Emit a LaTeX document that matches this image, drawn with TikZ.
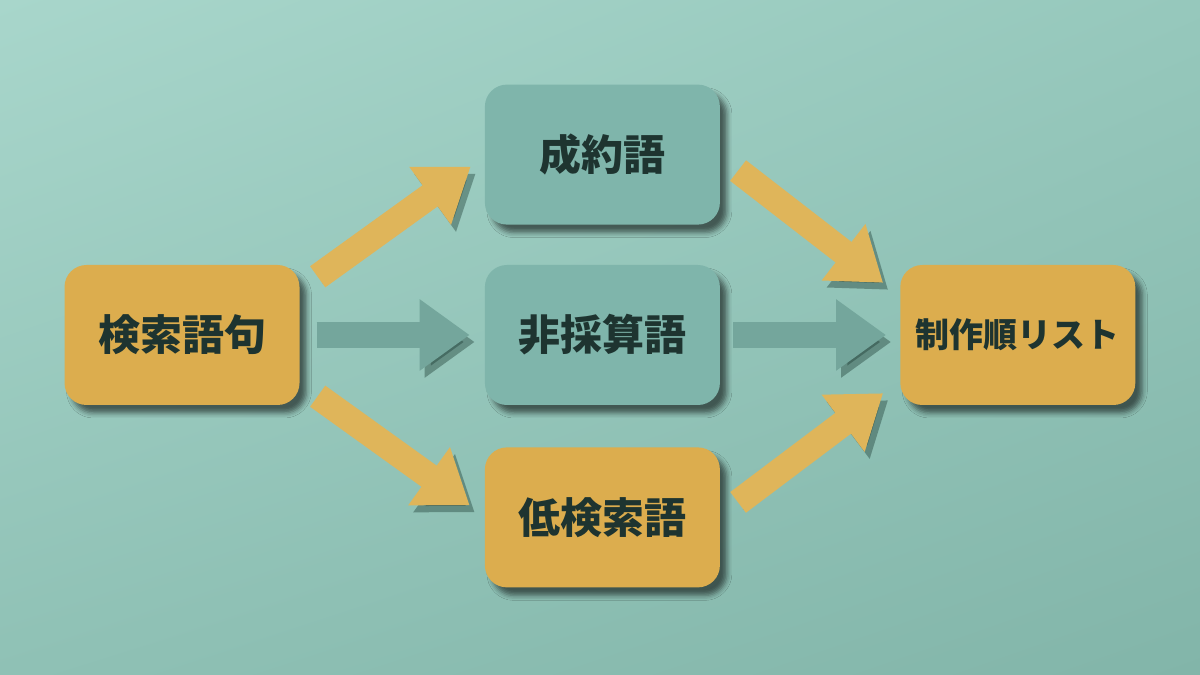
\documentclass[tikz,border=0pt]{standalone}
\usepackage{fontspec}
\newfontfamily\jpfont{Noto Sans CJK JP}
\usetikzlibrary{positioning,arrows.meta,shadows.blur,shadings}
\definecolor{bgA}{HTML}{A8D6CB}
\definecolor{bgB}{HTML}{96C8BC}
\definecolor{bgC}{HTML}{8FC1B5}
\definecolor{bgD}{HTML}{82B5A9}
\definecolor{boxgold}{HTML}{DCAD4E}
\definecolor{arrowgold}{HTML}{DFB55A}
\definecolor{boxteal}{HTML}{7FB5AB}
\definecolor{arrowteal}{HTML}{74A69C}
\definecolor{ink}{HTML}{1E3430}
\definecolor{shadowc}{HTML}{1B3A32}

\begin{document}
\begin{tikzpicture}[x=1pt,y=1pt,
		box/.style={minimum width=235pt,minimum height=140pt,rounded corners=22pt,
			text=ink,font=\jpfont\bfseries\fontsize{42}{42}\selectfont,
			blur shadow={shadow xshift=7pt,shadow yshift=-8pt,shadow blur radius=5pt,shadow opacity=55}},
		goldbox/.style={box,fill=boxgold},
		tealbox/.style={box,fill=boxteal},
		fat/.style={line width=26pt,-{Triangle[length=50pt,width=68pt]},
			preaction={draw=shadowc,opacity=.4,transform canvas={shift={(5pt,-7pt)}}}},
		goldarrow/.style={fat,draw=arrowgold},
		tealarrow/.style={fat,draw=arrowteal}]
	\useasboundingbox (0,0) rectangle (1200,675);
	\shade[upper left=bgA,upper right=bgB,lower left=bgC,lower right=bgD] (0,0) rectangle (1200,675);

	\node (kensaku)    [goldbox] at (182,340)               {検索語句};
	\node (hisaisan)   [tealbox,right=185pt of kensaku]     {非採算語};
	\node (seiyaku)    [tealbox,above=40pt of hisaisan]     {成約語};
	\node (teikensaku) [goldbox,below=42pt of hisaisan]     {低検索語};
	\node (list)       [goldbox,right=180pt of hisaisan,
		font=\jpfont\bfseries\fontsize{34}{34}\selectfont] {制作順リスト};

	\draw[goldarrow] ([shift={(18,-12)}]kensaku.north east) -- ([shift={(-14,-12)}]seiyaku.west);
	\draw[tealarrow] ([xshift=17]kensaku.east)               -- ([xshift=-15]hisaisan.west);
	\draw[goldarrow] ([shift={(18,9)}]kensaku.south east)   -- ([shift={(-15,12)}]teikensaku.west);
	\draw[goldarrow] ([shift={(18,-16)}]seiyaku.east)        -- ([shift={(-17,-18)}]list.north west);
	\draw[tealarrow] ([xshift=13]hisaisan.east)              -- ([xshift=-14]list.west);
	\draw[goldarrow] ([shift={(18,15)}]teikensaku.east)      -- ([shift={(-17,12)}]list.south west);
\end{tikzpicture}
\end{document}
